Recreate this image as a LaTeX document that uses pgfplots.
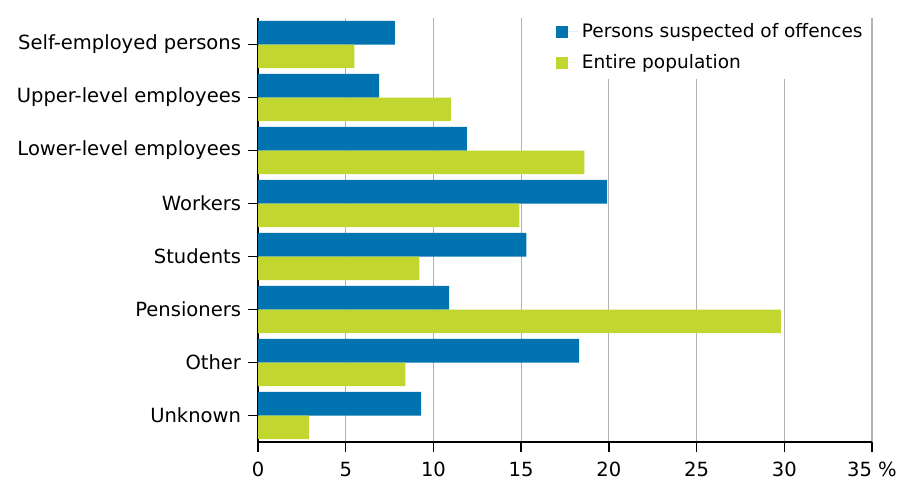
\documentclass[border=0pt]{standalone}
\usepackage{pgfplots}
\pgfplotsset{compat=1.18}
\usepackage{fontspec}
\setmainfont{DejaVu Sans}
\definecolor{sfblue}{RGB}{0,115,176}
\definecolor{sfgreen}{RGB}{193,215,47}
\begin{document}
\begin{tikzpicture}
\path[use as bounding box] (0,0) rectangle (449bp,243.5bp);
\begin{axis}[
  at={(129bp,22.5bp)}, anchor=south west,
  width=307bp, height=212bp, scale only axis,
  xbar, bar width=0.445,
  y dir=reverse,
  ymin=-0.5, ymax=7.5,
  xmin=0, xmax=35,
  xtick={0,5,...,35},
  xticklabels={0,5,10,15,20,25,30,35 \%},
  ytick={0,...,7},
  yticklabels={Self-employed persons,Upper-level employees,Lower-level employees,Workers,Students,Pensioners,Other,Unknown},
  axis x line*=bottom, axis y line*=left,
  axis line style={black, line width=0.7bp, -},
  tick align=outside, major tick length=5bp,
  tick style={black, line width=0.7bp},
  xmajorgrids, grid style={gray!60, line width=0.6bp},
  /pgf/number format/assume math mode=true,
  tick label style={font=\fontsize{9.8}{11}\selectfont},
  xticklabel style={yshift=-1.5bp},
  legend style={at={(0.478,1.008)}, anchor=north west, draw=none, fill=white,
    font=\fontsize{9.3}{11}\selectfont, row sep=3bp, inner sep=2bp},
  legend cell align=left,
  legend image code/.code={\path[#1] (0bp,-3bp) rectangle (6bp,3bp); \path (0bp,0bp) -- (11bp,0bp);},
]
\addplot[fill=sfblue, draw=none, bar shift=-0.2225] coordinates {
  (7.8,0) (6.9,1) (11.9,2) (19.9,3) (15.3,4) (10.9,5) (18.3,6) (9.3,7)};
\addplot[fill=sfgreen, draw=none, bar shift=0.2225] coordinates {
  (5.5,0) (11.0,1) (18.6,2) (14.9,3) (9.2,4) (29.8,5) (8.4,6) (2.9,7)};
\legend{Persons suspected of offences, Entire population}
\end{axis}
\end{tikzpicture}
\end{document}
